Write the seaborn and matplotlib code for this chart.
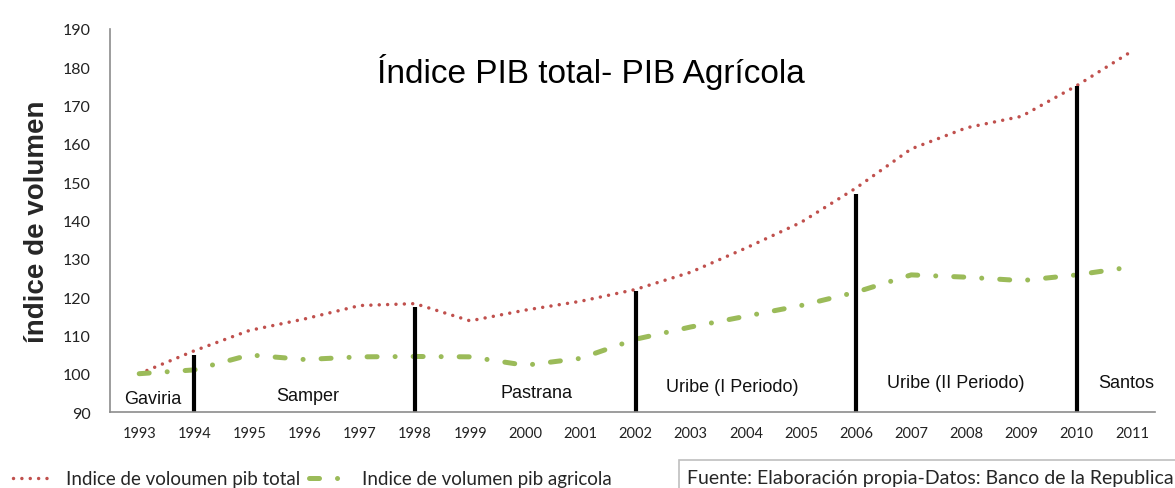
import matplotlib
matplotlib.use("Agg")
import matplotlib.pyplot as plt
import seaborn as sns
import pandas as pd
from matplotlib.lines import Line2D

# --- data ---
years = list(range(1993, 2012))
pib_total = [100, 106, 111.3, 114.3, 117.8, 118.3, 113.8, 116.6, 118.9, 122,
             126.5, 132.8, 139.5, 148.5, 158.7, 164.2, 167.2, 175.2, 184.2]
pib_agricola = [100, 101, 104.9, 103.7, 104.4, 104.5, 104.4, 102.2, 104, 109,
                112.2, 115, 117.8, 121.3, 125.8, 125.2, 124.3, 125.8, 127.9]

period_years = [1994, 1998, 2002, 2006, 2010]
period_tops = [105, 117.4, 121.6, 147, 175.2]

period_names = ["Gaviria", "Samper", "Pastrana", "Uribe (I Periodo)",
                "Uribe (II Periodo)", "Santos"]
name_x = [1993.25, 1996.05, 2000.2, 2003.75, 2007.8, 2010.9]
name_y = [93.4, 94.4, 95.0, 96.7, 97.6, 97.6]

RED = "#C0504D"
GREEN = "#9BBB59"
GREY = "#8c8c8c"
RED_LS = (0, (0.01, 2.4))
GREEN_LS = (0, (2.0, 3.6, 0.01, 3.6))

df = pd.DataFrame({"year": years, "total": pib_total, "agricola": pib_agricola})

sns.set_style("white")
plt.rcParams["font.family"] = ["Liberation Sans", "DejaVu Sans"]

fig = plt.figure(figsize=(11.75, 4.89), dpi=100)
ax = fig.add_axes([0.0936, 0.1554, 0.8894, 0.7833])

sns.lineplot(data=df, x="year", y="total", ax=ax, color=RED, linewidth=2.5,
             linestyle=RED_LS, dash_capstyle="round")
sns.lineplot(data=df, x="year", y="agricola", ax=ax, color=GREEN, linewidth=3.6,
             linestyle=GREEN_LS, dash_capstyle="round")

# government period separators
ax.vlines(period_years, 90, period_tops, color="black", linewidth=3)

for name, x, y in zip(period_names, name_x, name_y):
    ax.text(x, y, name, ha="center", va="center", fontsize=13, color="#111111")

fig.text(0.503, 0.853, "Índice PIB total- PIB Agrícola",
         ha="center", va="center", fontsize=24, color="black")

ax.set_xlim(1992.47, 2011.42)
ax.set_ylim(90, 190)
ax.set_xticks(years)
ax.set_xticklabels([str(y) for y in years], fontsize=10.5, color="#222222",
                   family=["Lato", "DejaVu Sans"])
ax.set_yticks(range(90, 191, 10))
ax.tick_params(axis="y", labelsize=11.5, colors="#222222", length=0, pad=14)
ax.tick_params(axis="x", length=0, pad=10)
for lab in ax.get_yticklabels():
    lab.set_family(["Lato", "DejaVu Sans"])

ax.set_xlabel("")
ax.set_ylabel("índice de volumen", fontsize=20, fontweight="bold")
ax.yaxis.set_label_coords(-0.057, 0.5)

for s in ["top", "right"]:
    ax.spines[s].set_visible(False)
ax.spines["left"].set_color(GREY)
ax.spines["bottom"].set_color(GREY)
ax.spines["left"].set_linewidth(1.2)
ax.spines["bottom"].set_linewidth(1.2)

handles = [
    Line2D([], [], color=RED, linewidth=2.5, linestyle=RED_LS, dash_capstyle="round"),
    Line2D([], [], color=GREEN, linewidth=3.6, linestyle=GREEN_LS, dash_capstyle="round"),
]
fig.legend(handles, ["Indice de voloumen pib total", "Indice de volumen pib agricola"],
           loc="lower left", bbox_to_anchor=(0.0, -0.025), ncol=2, frameon=False,
           handlelength=2.2, columnspacing=0.5, handletextpad=0.6, borderpad=0.2,
           prop={"family": ["Lato", "DejaVu Sans"], "size": 13.5})

fig.text(0.585, 0.004, "Fuente: Elaboración propia-Datos: Banco de la Republica",
         fontsize=14, family=["Lato", "DejaVu Sans"], ha="left", va="bottom",
         bbox=dict(boxstyle="square,pad=0.45", fc="white", ec="#bfbfbf", lw=1.2))

fig.savefig("out.png", dpi=100)
